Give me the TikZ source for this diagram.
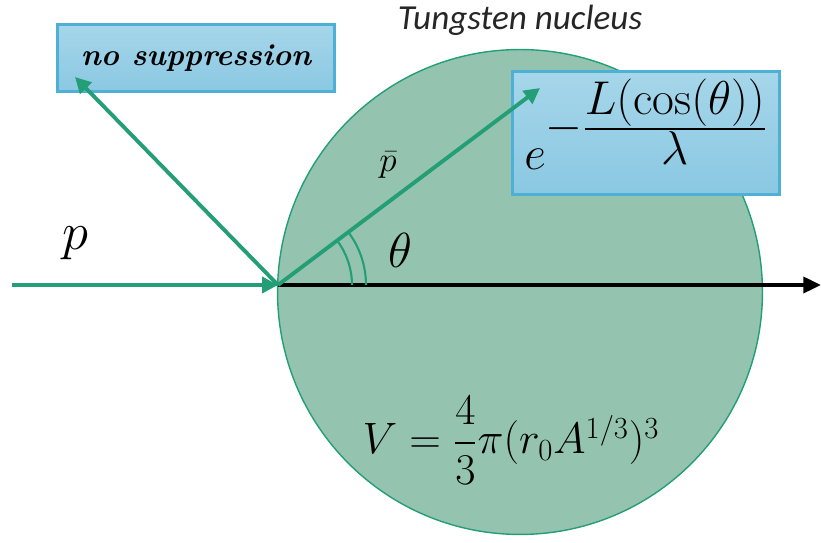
\documentclass[tikz,border=0pt]{standalone}
\usepackage{fix-cm}
\usepackage{amsmath}
\usepackage{fontspec}
\newfontfamily\labelfont{Carlito}
\usetikzlibrary{arrows.meta,angles}
\definecolor{nucgreen}{RGB}{148,196,176}
\definecolor{raygreen}{RGB}{36,158,118}
\definecolor{boxtop}{RGB}{166,214,234}
\definecolor{boxbottom}{RGB}{138,200,226}
\definecolor{boxedge}{RGB}{78,176,212}

\begin{document}
\begin{tikzpicture}[x=0.02cm, y=-0.02cm, >={Triangle[length=9pt,width=9pt]},
	ray/.style={->, raygreen, line width=2.2pt},
	infobox/.style={draw=boxedge, line width=1.6pt, top color=boxtop, bottom color=boxbottom, inner sep=0pt}]
	\useasboundingbox (0,0) rectangle (821,543);
	\node[circle, draw=raygreen, line width=0.8pt, fill=nucgreen, minimum size=9.7cm, inner sep=0pt] (nucleus) at (520,292) {};
	\coordinate (O) at (278,285);
	\coordinate (start) at (12,285);
	\coordinate (axisend) at (821,285);
	\coordinate (nstip) at (75,77);
	\coordinate (pbtip) at (540,88);
	\draw[->, line width=2.2pt, >={Triangle[length=10pt,width=9pt]}] (O) -- (axisend);
	\node[infobox, minimum width=5.54cm, minimum height=1.34cm, font=\fontsize{17.5}{20}\selectfont\bfseries\itshape] (nosup) at (196,58) {no suppression};
	\node[infobox, minimum width=5.34cm, minimum height=2.46cm, font=\fontsize{27}{30}\selectfont] (expo) at (646,133) {\raisebox{5pt}[\height][\depth]{$e^{\textstyle-\frac{\textstyle L(\cos(\theta))}{\textstyle\lambda}}$}};
	\draw[ray] (start) -- (O);
	\draw[ray] (O) -- (nstip);
	\draw[ray] (O) -- (pbtip);
	\pic[draw=raygreen, line width=1.2pt, angle radius=1.48cm] {angle=axisend--O--pbtip};
	\pic[draw=raygreen, line width=1.2pt, angle radius=1.76cm] {angle=axisend--O--pbtip};
	\node[font=\fontsize{30}{34}\selectfont] (plabel) at (75,243) {$p$};
	\node[font=\fontsize{20}{24}\selectfont] (pbarlabel) at (388,165) {$\bar{p}$};
	\node[font=\fontsize{28}{32}\selectfont] (thetalabel) at (400,250) {$\theta$};
	\node[font=\labelfont\itshape\fontsize{20}{24}\selectfont, text=black!85] (title) at (520,20) {Tungsten nucleus};
	\node[font=\fontsize{25}{29}\selectfont] (volume) at (511,440) {$V=\dfrac{4}{3}\pi(r_0A^{1/3})^3$};
\end{tikzpicture}
\end{document}
